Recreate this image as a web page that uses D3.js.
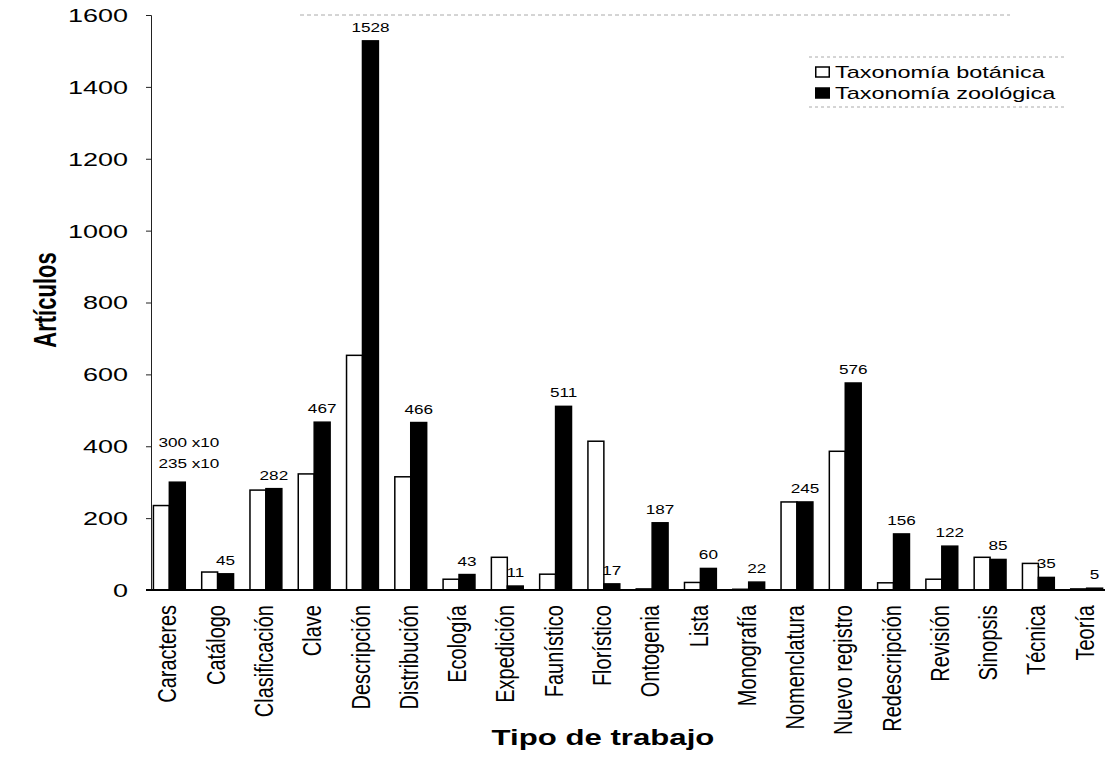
<!DOCTYPE html>
<html>
<head>
<meta charset="utf-8">
<script src="https://cdn.jsdelivr.net/npm/d3@7"></script>
<style>
  body { margin: 0; background: #fff; }
  text { font-family: "Liberation Sans", Arial, sans-serif; fill: #000; }
</style>
</head>
<body>
<div id="chart"></div>
<script>
// datos
var categorias = ["Caracteres", "Catálogo", "Clasificación", "Clave", "Descripción", "Distribución",
  "Ecología", "Expedición", "Faunístico", "Florístico", "Ontogenia", "Lista", "Monografía",
  "Nomenclatura", "Nuevo registro", "Redescripción", "Revisión", "Sinopsis", "Técnica", "Teoría"];
var botanica = [235, 50, 278, 323, 653, 315, 30, 91, 44, 414, 3, 21, 2, 245, 386, 20, 30, 91, 74, 3];
var zoologica = [300, 45, 282, 467, 1528, 466, 43, 11, 511, 17, 187, 60, 22, 245, 576, 156, 122, 85, 35, 5];
var notaCaracteres = ["300 x10", "235 x10"];
var series = ["Taxonomía botánica", "Taxonomía zoológica"];
var yTicks = [0, 200, 400, 600, 800, 1000, 1200, 1400, 1600];

var width = 1108, height = 766;
var stretch = 1.45;

var svg = d3.select("#chart").append("svg")
  .attr("width", width)
  .attr("height", height);

var x = d3.scaleBand()
  .domain(categorias)
  .range([151, 1105])
  .paddingInner(0.34)
  .paddingOuter(0.05);

var x1 = d3.scaleBand()
  .domain([0, 1])
  .range([0, x.bandwidth()]);

var y = d3.scaleLinear()
  .domain([0, 1600])
  .range([590, 15]);

// marco superior tenue
svg.append("line")
  .attr("x1", 300).attr("x2", 1010)
  .attr("y1", y(1600)).attr("y2", y(1600))
  .attr("stroke", "#aaa")
  .attr("stroke-width", 1)
  .attr("stroke-dasharray", "4,3");

// eje y
var yAxis = svg.append("g")
  .attr("transform", "translate(151,0)")
  .call(d3.axisLeft(y).tickValues(yTicks).tickFormat(d3.format("d")).tickSize(5).tickPadding(0));
yAxis.select(".domain").attr("stroke", "#222");
yAxis.selectAll(".tick line").attr("stroke", "#222");
yAxis.selectAll(".tick text")
  .attr("x", -23 / 1.5)
  .attr("dy", "0.36em")
  .attr("transform", "scale(1.5,1)")
  .style("font-size", "18px")
  .style("font-family", "'Liberation Sans', Arial, sans-serif");

// barras
var grupos = svg.append("g").selectAll("g")
  .data(categorias)
  .join("g")
  .attr("transform", function(d) { return "translate(" + x(d) + ",0)"; });

grupos.append("rect")
  .attr("x", x1(0))
  .attr("width", x1.bandwidth())
  .attr("y", function(d, i) { return y(botanica[i]); })
  .attr("height", function(d, i) { return y(0) - y(botanica[i]); })
  .attr("fill", "#fff")
  .attr("stroke", "#000")
  .attr("stroke-width", 1.5);

grupos.append("rect")
  .attr("x", x1(1))
  .attr("width", x1.bandwidth())
  .attr("y", function(d, i) { return y(zoologica[i]); })
  .attr("height", function(d, i) { return y(0) - y(zoologica[i]); })
  .attr("fill", "#000")
  .attr("stroke", "#000")
  .attr("stroke-width", 1.5);

// etiquetas de valor
grupos.filter(function(d, i) { return i > 0; })
  .append("text")
  .attr("transform", function(d) {
    var i = categorias.indexOf(d);
    return "translate(" + (x1(1) + x1.bandwidth() / 2) + "," + (y(zoologica[i]) - 9) + ") scale(1.37,1)";
  })
  .attr("text-anchor", "middle")
  .style("font-size", "12.5px")
  .text(function(d) { return zoologica[categorias.indexOf(d)]; });

// nota de Caracteres
svg.append("g").selectAll("text")
  .data(notaCaracteres)
  .join("text")
  .attr("transform", function(d, i) {
    return "translate(" + (x(categorias[0]) + 5) + "," + (y(zoologica[0]) - 35 + i * 21) + ") scale(1.37,1)";
  })
  .style("font-size", "12.5px")
  .text(function(d) { return d; });

// eje x
var xAxis = svg.append("g")
  .attr("transform", "translate(0,590)")
  .call(d3.axisBottom(x).tickSize(0).tickPadding(0));
xAxis.select(".domain").remove();
xAxis.selectAll(".tick text")
  .attr("x", 0)
  .attr("y", 0)
  .attr("dy", "0.35em")
  .attr("text-anchor", "end")
  .attr("transform", "translate(-2,15) scale(1.3,1) rotate(-90)")
  .style("font-size", "20px")
  .style("font-family", "'Liberation Sans', Arial, sans-serif");

svg.append("line")
  .attr("x1", 146).attr("x2", 1105)
  .attr("y1", 590).attr("y2", 590)
  .attr("stroke", "#000")
  .attr("stroke-width", 2);

// títulos
svg.append("text")
  .attr("transform", "translate(45,300) scale(" + stretch + ",1) rotate(-90)")
  .attr("text-anchor", "middle")
  .attr("dy", "0.35em")
  .style("font-size", "22px")
  .style("font-weight", "bold")
  .text("Artículos");

svg.append("text")
  .attr("transform", "translate(603,745) scale(" + stretch + ",1)")
  .attr("text-anchor", "middle")
  .style("font-size", "21.5px")
  .style("font-weight", "bold")
  .text("Tipo de trabajo");

// leyenda
var leyenda = svg.append("g").attr("transform", "translate(815,0)");
leyenda.selectAll("line")
  .data([57, 107])
  .join("line")
  .attr("x1", -6).attr("x2", 252)
  .attr("y1", function(d) { return d; }).attr("y2", function(d) { return d; })
  .attr("stroke", "#aaa")
  .attr("stroke-dasharray", "3,3");

var item = leyenda.selectAll(".item")
  .data(series)
  .join("g")
  .attr("class", "item")
  .attr("transform", function(d, i) { return "translate(0," + (72 + i * 21) + ")"; });

item.append("rect")
  .attr("x", 0.75).attr("y", -5)
  .attr("width", 13.5).attr("height", 10)
  .attr("fill", function(d, i) { return i ? "#000" : "#fff"; })
  .attr("stroke", "#000")
  .attr("stroke-width", 1.5);

item.append("text")
  .attr("transform", "translate(20,0) scale(1.38,1)")
  .attr("dy", "0.36em")
  .style("font-size", "17px")
  .text(function(d) { return d; });
</script>
</body>
</html>
